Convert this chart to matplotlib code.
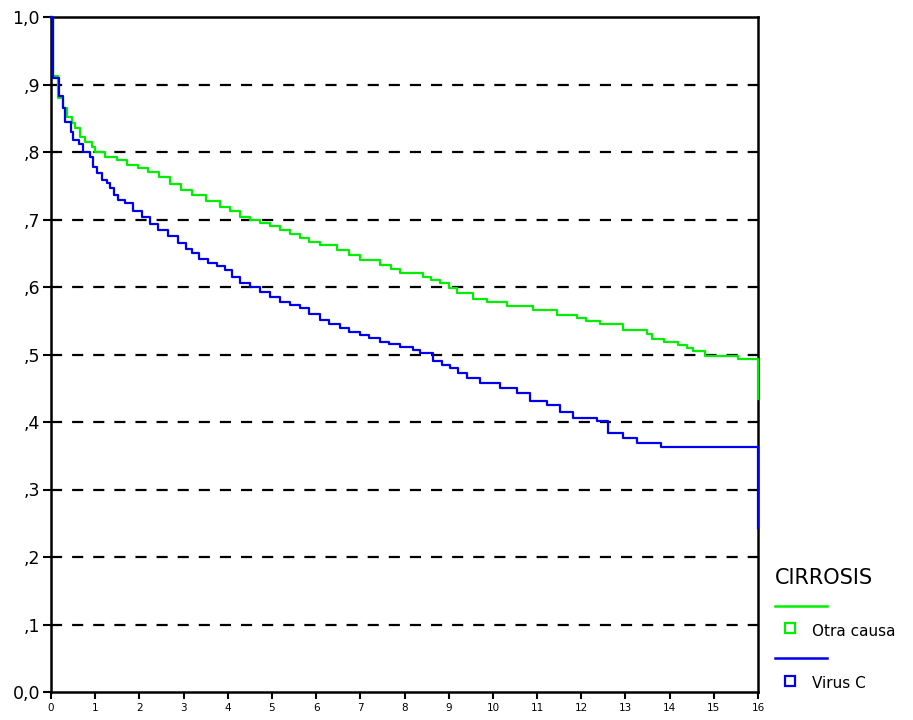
import matplotlib
matplotlib.use("Agg")
import matplotlib.pyplot as plt
from matplotlib.lines import Line2D

# Kaplan-Meier step data (time in years, survival)
otra_t = [0, 0.05, 0.15, 0.27, 0.36, 0.47, 0.54, 0.66, 0.77, 0.92, 0.99, 1.22, 1.49, 1.71,
          1.97, 2.2, 2.45, 2.7, 2.95, 3.2, 3.5, 3.82, 4.05, 4.28, 4.5, 4.73, 4.95, 5.18,
          5.4, 5.63, 5.85, 6.09, 6.47, 6.75, 6.99, 7.44, 7.7, 7.9, 8.42, 8.6, 8.8, 9.0,
          9.19, 9.55, 9.87, 10.32, 10.91, 11.45, 11.9, 12.1, 12.42, 12.94, 13.49, 13.6,
          13.88, 14.18, 14.39, 14.53, 14.8, 15.55, 16.0]
otra_s = [1.0, 0.912, 0.88, 0.865, 0.852, 0.843, 0.835, 0.822, 0.815, 0.807, 0.80, 0.793,
          0.788, 0.781, 0.777, 0.771, 0.763, 0.753, 0.743, 0.736, 0.728, 0.719, 0.712, 0.704,
          0.70, 0.695, 0.69, 0.684, 0.678, 0.672, 0.667, 0.662, 0.655, 0.648, 0.64, 0.632,
          0.626, 0.621, 0.615, 0.61, 0.606, 0.598, 0.591, 0.582, 0.578, 0.572, 0.566, 0.559,
          0.554, 0.55, 0.545, 0.536, 0.53, 0.523, 0.519, 0.514, 0.51, 0.505, 0.498, 0.493,
          0.434]

virus_t = [0, 0.05, 0.17, 0.28, 0.32, 0.45, 0.5, 0.63, 0.73, 0.88, 0.95, 1.03, 1.15, 1.26,
           1.33, 1.43, 1.52, 1.67, 1.85, 2.06, 2.25, 2.42, 2.65, 2.87, 3.05, 3.19, 3.35,
           3.55, 3.75, 3.94, 4.1, 4.28, 4.5, 4.73, 4.95, 5.18, 5.4, 5.63, 5.85, 6.09, 6.3,
           6.54, 6.75, 6.99, 7.2, 7.44, 7.65, 7.9, 8.19, 8.35, 8.64, 8.85, 9.03, 9.2, 9.41,
           9.71, 10.16, 10.55, 10.84, 11.22, 11.52, 11.81, 12.36, 12.6, 12.94, 13.26, 13.8,
           16.0]
virus_s = [1.0, 0.91, 0.883, 0.865, 0.844, 0.83, 0.818, 0.812, 0.80, 0.793, 0.778, 0.769,
           0.759, 0.754, 0.747, 0.736, 0.729, 0.724, 0.713, 0.704, 0.694, 0.684, 0.675,
           0.665, 0.657, 0.650, 0.642, 0.636, 0.631, 0.625, 0.615, 0.606, 0.60, 0.593, 0.585,
           0.578, 0.574, 0.569, 0.56, 0.551, 0.545, 0.539, 0.534, 0.529, 0.524, 0.519, 0.515,
           0.511, 0.507, 0.502, 0.49, 0.485, 0.48, 0.472, 0.465, 0.458, 0.45, 0.443, 0.431,
           0.425, 0.415, 0.406, 0.401, 0.384, 0.376, 0.369, 0.363, 0.243]

x_ticks = list(range(0, 17))
y_ticks = [0.0, 0.1, 0.2, 0.3, 0.4, 0.5, 0.6, 0.7, 0.8, 0.9, 1.0]
y_labels = ["0,0", ",1", ",2", ",3", ",4", ",5", ",6", ",7", ",8", ",9", "1,0"]

legend_title = "CIRROSIS"
group_names = ["Otra causa", "Virus C"]
colors = ["#00ee00", "#0000ee"]

fig = plt.figure(figsize=(9.13, 7.2), dpi=100)
ax = fig.add_axes([51/913, 28/720, (758-51)/913, (692-17)/720])

for yv in y_ticks[1:-1]:
    ax.axhline(yv, color="black", lw=1.6, ls=(0, (5, 4.5)), zorder=1)

ax.step(otra_t, otra_s, where="post", color=colors[0], lw=1.6, zorder=3, clip_on=False)
ax.step(virus_t, virus_s, where="post", color=colors[1], lw=1.6, zorder=4, clip_on=False)

ax.set_xlim(0, 16)
ax.set_ylim(0, 1)
ax.set_xticks(x_ticks)
ax.set_xticklabels([str(v) for v in x_ticks], fontsize=7.5)
ax.set_yticks(y_ticks)
ax.set_yticklabels(y_labels, fontsize=12.5)
ax.tick_params(axis="x", length=5, width=1.5, direction="out", pad=3)
ax.tick_params(axis="y", length=6, width=1.5, direction="out", pad=2)
for s in ax.spines.values():
    s.set_linewidth(1.8)
    s.set_color("black")

# Legend drawn manually on the right
W, H = 913, 720
fig.text(775/W, 1 - 578/H, legend_title, fontsize=15, va="center", ha="left")
line_y = [606, 658]
marker_y = [628, 681]
for i, name in enumerate(group_names):
    fig.add_artist(Line2D([775/W, 827/W], [1 - line_y[i]/H] * 2, color=colors[i], lw=1.8,
                          transform=fig.transFigure))
    fig.add_artist(Line2D([790/W], [1 - marker_y[i]/H], marker="s", markersize=6.5,
                          markerfacecolor="white", markeredgecolor=colors[i], markeredgewidth=1.6,
                          linestyle="none", transform=fig.transFigure))
    fig.text(812/W, 1 - (marker_y[i] + 3)/H, name, fontsize=11, va="center", ha="left")

fig.savefig("out.png", dpi=100)
